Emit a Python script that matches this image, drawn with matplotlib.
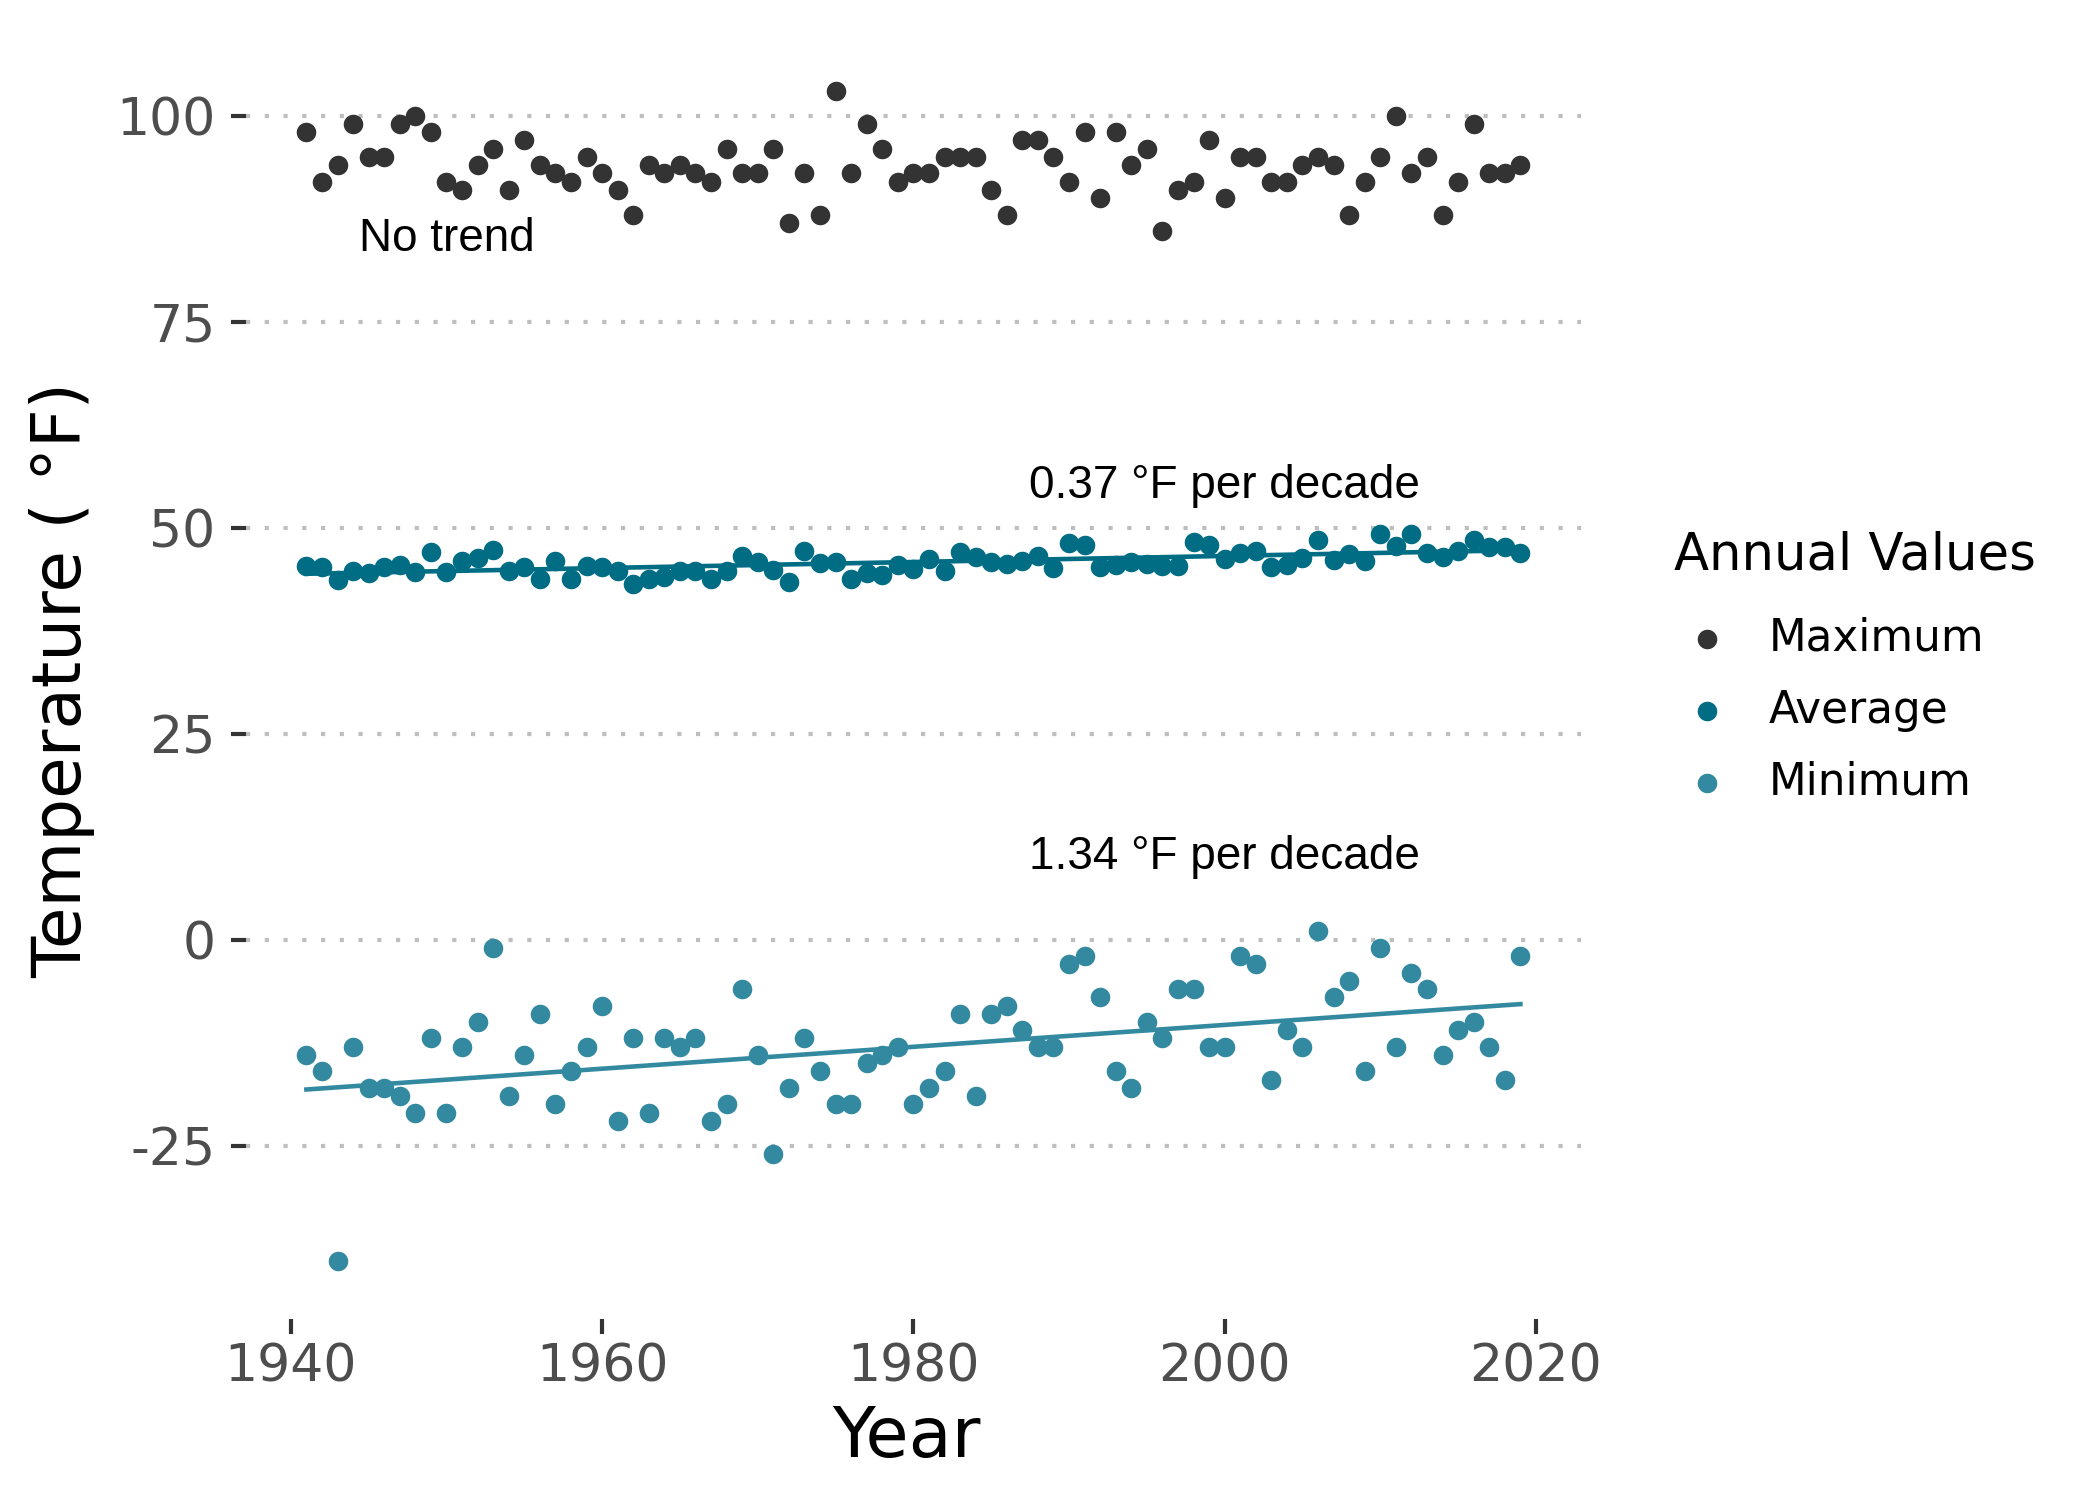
import numpy as np
import matplotlib.pyplot as plt

# annual values
years = np.arange(1941, 2020)

t_max = [98, 92, 94, 99, 95, 95, 99, 100, 98, 92,
         91, 94, 96, 91, 97, 94, 93, 92, 95, 93,
         91, 88, 94, 93, 94, 93, 92, 96, 93, 93,
         96, 87, 93, 88, 103, 93, 99, 96, 92, 93,
         93, 95, 95, 95, 91, 88, 97, 97, 95, 92,
         98, 90, 98, 94, 96, 86, 91, 92, 97, 90,
         95, 95, 92, 92, 94, 95, 94, 88, 92, 95,
         100, 93, 95, 88, 92, 99, 93, 93, 94]

t_avg = [45.3, 45.2, 43.7, 44.8, 44.5, 45.2, 45.5, 44.6, 47.1, 44.6,
         45.9, 46.3, 47.3, 44.8, 45.2, 43.8, 46.0, 43.8, 45.4, 45.2,
         44.8, 43.2, 43.8, 44.0, 44.8, 44.7, 43.8, 44.8, 46.6, 45.8,
         44.9, 43.4, 47.2, 45.7, 45.8, 43.8, 44.5, 44.2, 45.5, 45.0,
         46.2, 44.8, 47.0, 46.4, 45.8, 45.6, 45.9, 46.6, 45.1, 48.1,
         47.9, 45.2, 45.5, 45.8, 45.6, 45.3, 45.4, 48.3, 47.9, 46.2,
         46.9, 47.2, 45.2, 45.5, 46.3, 48.5, 46.1, 46.8, 46.0, 49.2,
         47.8, 49.2, 46.9, 46.4, 47.2, 48.5, 47.7, 47.6, 46.9]

t_min = [-14, -16, -39, -13, -18, -18, -19, -21, -12, -21,
         -13, -10, -1, -19, -14, -9, -20, -16, -13, -8,
         -22, -12, -21, -12, -13, -12, -22, -20, -6, -14,
         -26, -18, -12, -16, -20, -20, -15, -14, -13, -20,
         -18, -16, -9, -19, -9, -8, -11, -13, -13, -3,
         -2, -7, -16, -18, -10, -12, -6, -6, -13, -13,
         -2, -3, -17, -11, -13, 1, -7, -5, -16, -1,
         -13, -4, -6, -14, -11, -10, -13, -17, -2]

series_names = ['Maximum', 'Average', 'Minimum']
series_colors = ['#333333', '#006D85', '#338AA0']

notes = ['No trend', '0.37 °F per decade', '1.34 °F per decade']
note_x = [1950, 2000, 2000]
note_y = [85, 55, 10]

plt.rcParams['font.family'] = ['DejaVu Sans']
plt.rcParams['axes.unicode_minus'] = False

fig = plt.figure(figsize=(7, 5), dpi=300)
ax = fig.add_axes([0.117, 0.1204, 0.6359, 0.8579])

handles = []
for vals, name, col in zip([t_max, t_avg, t_min], series_names, series_colors):
    h = ax.scatter(years, vals, s=22, color=col, linewidths=0, label=name, zorder=3)
    handles.append(h)

# linear trends for average and minimum
for vals, col in zip([t_avg, t_min], series_colors[1:]):
    k, b = np.polyfit(years, vals, 1)
    ax.plot(years, k * years + b, color=col, lw=1.1, zorder=2)

for txt, x, y in zip(notes, note_x, note_y):
    ax.text(x, y, txt, ha='center', va='center', fontsize=11.0,
            family='Liberation Sans', color='black')

# ggplot style 5% expansion
allv = np.concatenate([t_max, t_avg, t_min])
ypad = (allv.max() - allv.min()) * 0.05
ax.set_ylim(allv.min() - ypad, allv.max() + ypad)
xpad = (years.max() - years.min()) * 0.05
ax.set_xlim(years.min() - xpad, years.max() + xpad)

ax.set_yticks([-25, 0, 25, 50, 75, 100])
ax.set_xticks([1940, 1960, 1980, 2000, 2020])
for s in ax.spines.values():
    s.set_visible(False)
ax.yaxis.grid(True, color='#BEBEBE', linestyle=(0, (1, 3.5)), linewidth=1.0)
ax.set_axisbelow(True)
ax.tick_params(axis='both', length=3.6, width=1.0, color='#333333',
               labelcolor='#4D4D4D', labelsize=12.5)
ax.tick_params(axis='y', pad=3.6)
ax.tick_params(axis='x', pad=2.0)

fig.text(62 / 2100, 1 - 680 / 1500, 'Temperature ( °F)', rotation=90,
         ha='center', va='center', fontsize=16.2, color='black')
fig.text(906 / 2100, 1 - 1437 / 1500, 'Year', ha='center', va='center',
         fontsize=16.8, color='black')

# legend: title placed on its own so the gap to the keys matches
fig.text(1674 / 2100, 1 - 556 / 1500, 'Annual Values', ha='left', va='center',
         fontsize=12.3, color='black')
leg = fig.legend(handles, series_names, loc='upper left',
                 bbox_to_anchor=(0.7962, 0.5887), frameon=False, borderpad=0,
                 borderaxespad=0, fontsize=10.5,
                 handlelength=1.6, handletextpad=0.62, labelspacing=0.66,
                 scatterpoints=1)

fig.savefig('out.png', dpi=300)
